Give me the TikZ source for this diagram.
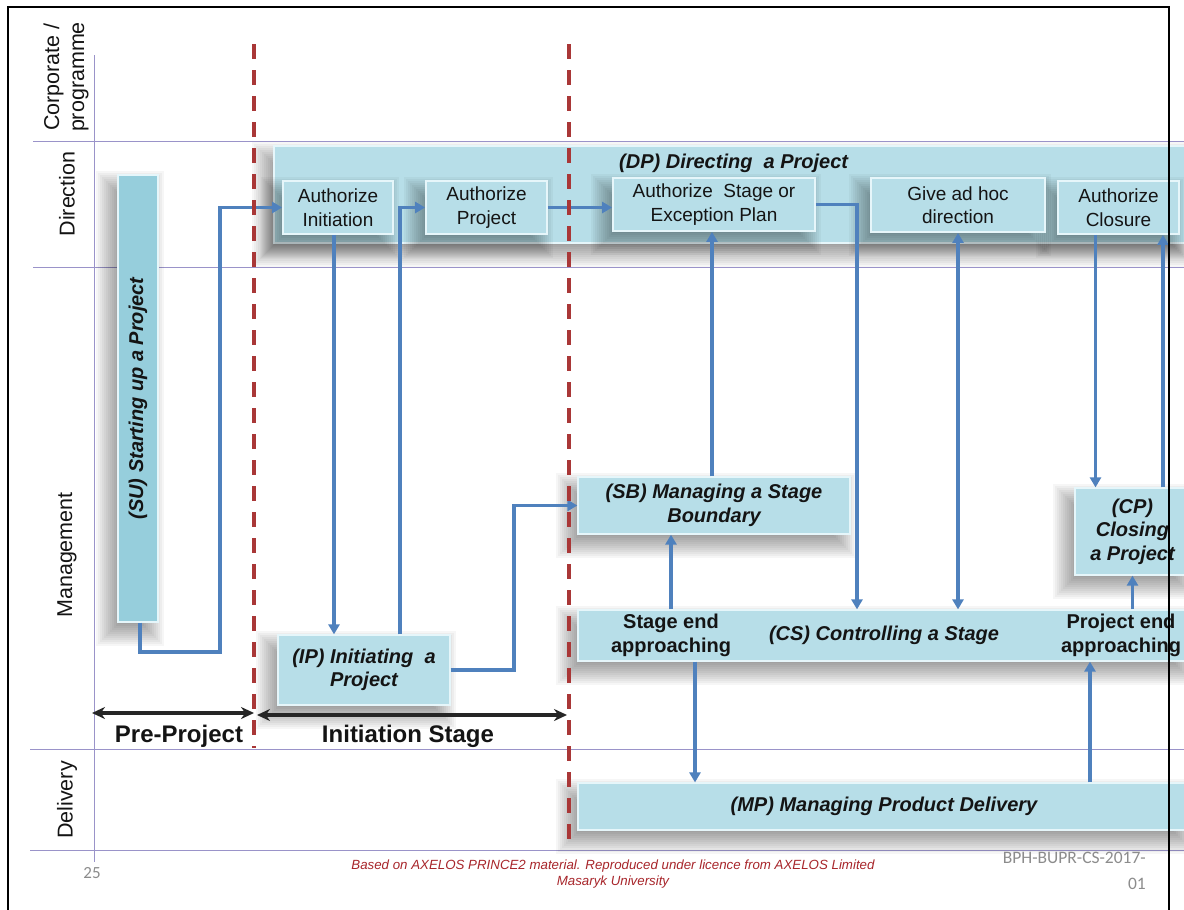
\documentclass[tikz,border=0pt]{standalone}
\usepackage{fontspec}
\setmainfont{Liberation Sans}
\newfontfamily\calibri{Carlito}
\usetikzlibrary{arrows.meta,calc}

\definecolor{boxc}{HTML}{B7DEE8}
\definecolor{suc}{HTML}{96CEDC}
\definecolor{bevel}{HTML}{E6F6FA}
\definecolor{flowc}{HTML}{4F81BD}
\definecolor{lanec}{HTML}{9A93C9}
\definecolor{divc}{HTML}{A93737}
\definecolor{notec}{HTML}{A8262B}
\definecolor{greyc}{HTML}{8C8C8C}
\definecolor{inkc}{HTML}{141414}

\pgfdeclarelayer{lanes}
\pgfdeclarelayer{shadows}
\pgfdeclarelayer{base}
\pgfdeclarelayer{innershadows}
\pgfsetlayers{lanes,shadows,base,innershadows,main}

% soft drop shadow below-left of a named node, built from nested translucent rectangles
\newcommand\dropshade[1]{%
  \foreach \k in {0,...,13}{%
    \pgfmathsetmacro\e{13-2*\k}%
    \fill[black, opacity=0.036]
      ($(#1.north west)+(-8-\e,10-\e)$) rectangle ($(#1.south east)+(-8+\e,10+\e)$);
  }}

\tikzset{
  lane/.style={draw=lanec, line width=1pt},
  procbox/.style={rectangle, fill=boxc, draw=bevel, line width=1.2pt,
      align=center, text=inkc, inner sep=2pt,
      font=\fontsize{20}{23.5}\selectfont\bfseries\itshape},
  subbox/.style={rectangle, fill=boxc, draw=bevel, line width=1.8pt,
      align=center, text=inkc, inner sep=2pt,
      font=\fontsize{19}{23.5}\selectfont},
  lanelabel/.style={rotate=90, align=center, text=inkc,
      font=\fontsize{21.5}{25}\selectfont},
  plain/.style={align=center, text=inkc, inner sep=0pt},
  flow/.style={draw=flowc, line width=3.2pt,
      -{Triangle[length=10pt,width=11pt]}},
  flowboth/.style={draw=flowc, line width=3.2pt,
      {Triangle[length=10pt,width=11pt]}-{Triangle[length=10pt,width=11pt]}},
  span/.style={draw=black!85, line width=3.2pt,
      {Stealth[length=13pt,width=12pt]}-{Stealth[length=13pt,width=12pt]}},
  divider/.style={draw=divc, line width=3.5pt, dash pattern=on 15pt off 11pt},
}

\begin{document}
\begin{tikzpicture}[x=1pt,y=-1pt]
\useasboundingbox (0,0) rectangle (1184,910);
\clip (0,0) rectangle (1184,910);

\begin{pgfonlayer}{lanes}
\fill[white] (0,0) rectangle (1184,910);
% swim-lane grid
\draw[lane] (33,141) -- (1184,141);
\draw[lane] (33,267) -- (1184,267);
\draw[lane] (30,749) -- (1184,749);
\draw[lane] (30,850) -- (1184,850);
\draw[lane] (94,55) -- (94,862);
\end{pgfonlayer}

% lane titles
\node[lanelabel] (lcorp) at (66,77) {Corporate /\\programme};
\node[lanelabel] (ldir) at (67,194) {Direction};
\node[lanelabel] (lman) at (67,555) {Management};
\node[lanelabel] (ldel) at (67,800) {Delivery};

\begin{pgfonlayer}{base}
% Directing a Project
\node[procbox, minimum width=916pt, minimum height=97pt] (dp) at (732,194.5) {};
% Starting up a Project
\node[procbox, fill=suc, minimum width=40pt, minimum height=447pt] (su) at (138,398.5) {};
% Initiating a Project
\node[procbox, minimum width=172pt, minimum height=70pt] (ip) at (364,670) {(IP) Initiating~ a\\Project};
% Managing a Stage Boundary
\node[procbox, minimum width=272pt, minimum height=57pt] (sb) at (714,505.5) {(SB) Managing a Stage\\Boundary};
% Closing a Project
\node[procbox, minimum width=115pt, minimum height=87pt] (cp) at (1132.5,531.5) {(CP)\\Closing\\a Project};
% Controlling a Stage
\node[procbox, minimum width=612pt, minimum height=51pt] (cs) at (884,635.5) {(CS) Controlling a Stage};
% Managing Product Delivery
\node[procbox, minimum width=612pt, minimum height=47pt] (mp) at (884,806.5) {(MP) Managing Product Delivery};
\end{pgfonlayer}

\node[plain, anchor=west, font=\fontsize{20}{23.5}\selectfont\bfseries\itshape]
  (dptitle) at (619,163) {(DP) Directing~ a Project};
\node[plain, rotate=90, font=\fontsize{20}{23.5}\selectfont\bfseries\itshape]
  (sutext) at (su.center) {(SU) Starting up a Project};
\node[plain, font=\fontsize{20}{23.5}\selectfont\bfseries] (se) at (671,635.5) {Stage end\\approaching};
\node[plain, font=\fontsize{20}{23.5}\selectfont\bfseries] (pe) at (1121,635.5) {Project end\\approaching};

% board decisions inside the Directing band
\node[subbox, minimum width=110pt, minimum height=53pt] (ai) at (338,207.5) {Authorize\\Initiation};
\node[subbox, minimum width=121pt, minimum height=53pt] (ap) at (486.5,207.5) {Authorize\\Project};
\node[subbox, minimum width=202pt, minimum height=53pt] (as) at (714,204.5) {Authorize~ Stage or\\Exception Plan};
\node[subbox, minimum width=174pt, minimum height=54pt] (ah) at (958,205) {Give ad hoc\\direction};
\node[subbox, minimum width=121pt, minimum height=53pt] (ac) at (1118.5,207.5) {Authorize\\Closure};

\begin{pgfonlayer}{shadows}
\dropshade{dp}\dropshade{su}\dropshade{ip}\dropshade{sb}
\dropshade{cp}\dropshade{cs}\dropshade{mp}
\end{pgfonlayer}
\begin{pgfonlayer}{innershadows}
\dropshade{ai}\dropshade{ap}\dropshade{as}\dropshade{ah}\dropshade{ac}
\end{pgfonlayer}

% process flows
\coordinate (suturn) at (220,652);
\draw[flow] ([xshift=2pt]su.south) |- (suturn) |- (ai.west);
\draw[flow] ([xshift=-4pt]ai.south) -- ([xshift=-4pt]ai.south |- ip.north);
\draw[flow] ([xshift=36pt]ip.north) |- (ap.west);
\coordinate (ipturn) at (514,670);
\draw[flow] (ip.east) -- (ipturn) |- (sb.west);
\draw[flow] (ap.east) -- (ap.east -| as.west);
\draw[flow] ([xshift=-2pt]sb.north) -- ([xshift=-2pt]as.south);
\coordinate (asturn) at (857,204.5);
\draw[flow] (as.east) -- (asturn) -- (asturn |- cs.north);
\draw[flowboth] (ah.south) -- (ah.south |- cs.north);
\draw[flow] ([xshift=-23pt]ac.south) -- ([xshift=-23pt]ac.south |- cp.north);
\draw[flow] ([xshift=30.5pt]cp.north) -- ([xshift=30.5pt]cp.north |- ac.south);
\draw[flow] (cp.south |- cs.north) -- (cp.south);
\draw[flow] (se.north |- cs.north) -- (se.north |- sb.south);
\draw[flow] ([xshift=24pt]se.south |- cs.south) -- ([xshift=24pt]se.south |- mp.north);
\draw[flow] ([xshift=-31pt]pe.south |- mp.north) -- ([xshift=-31pt]pe.south |- cs.south);

% project phases
\coordinate (preL) at (92,713);
\coordinate (preR) at (254,713);
\coordinate (iniL) at (257,715);
\coordinate (iniR) at (567,715);
\draw[span] (preL) -- (preR);
\draw[span] (iniL) -- (iniR);
\node[plain, font=\fontsize{24}{28}\selectfont\bfseries] (pretext) at (179,736) {Pre-Project};
\node[plain, font=\fontsize{24}{28}\selectfont\bfseries] (initext) at (408,736) {Initiation Stage};

% stage boundaries
\draw[divider] (254,44) -- (254,748);
\draw[divider] (569,44) -- (569,850);

% footer
\node[plain, text=greyc, font=\calibri\fontsize{17}{20}\selectfont] (pageno) at (92,873) {25};
\node[plain, text=notec, font=\fontsize{13.3}{16}\selectfont\itshape] (credit) at (613,874)
  {Based on AXELOS PRINCE2 material. Reproduced under licence from AXELOS Limited\\Masaryk University};
\node[plain, anchor=north east, align=right, text=greyc, font=\calibri\fontsize{17.5}{26}\selectfont]
  (code) at (1146,852) {BPH-BUPR-CS-2017-\\01};

% slide frame
\draw[black, line width=2.5pt] (8,912) -- (8,7) -- (1169,7) -- (1169,912);
\end{tikzpicture}
\end{document}
